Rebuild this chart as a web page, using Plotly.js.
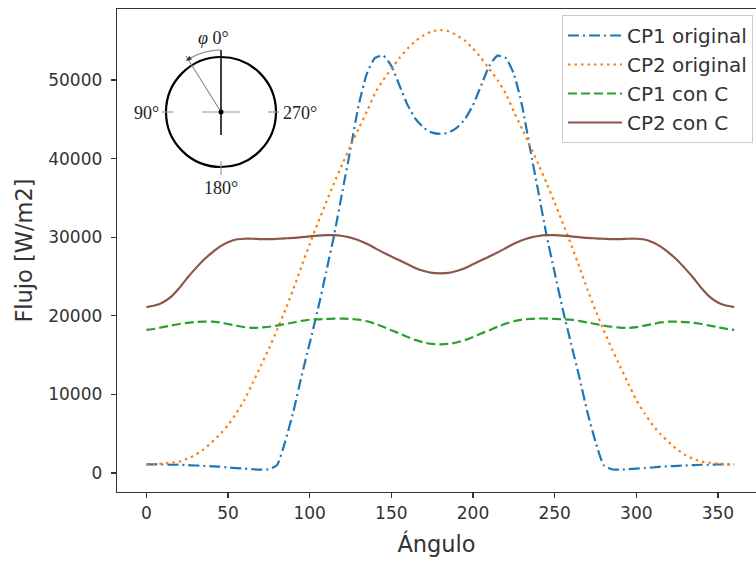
<!DOCTYPE html>
<html>
<head>
<meta charset="utf-8">
<script src="https://cdn.plot.ly/plotly-3.0.1.min.js"></script>
<style>html,body{margin:0;padding:0;background:#fff;}#chart{width:756px;height:561px;}</style>
</head>
<body>
<div id="chart"></div>
<script>
// ---- data ----
const angulo = [0,5,10,15,20,25,30,35,40,45,50,55,60,65,70,75,80,85,90,95,100,105,110,115,120,125,130,135,140,145,150,155,160,165,170,175,180,
  185,190,195,200,205,210,215,220,225,230,235,240,245,250,255,260,265,270,275,280,285,290,295,300,305,310,315,320,325,330,335,340,345,350,355,360];

const cp1Original = [1100,1100,1080,1050,1050,1000,950,900,850,800,700,620,550,480,420,480,1000,4000,7800,12300,16500,20800,25500,30300,35800,41200,46800,50800,52800,53100,51800,49300,46800,45000,43900,43300,43150,
  43300,43900,45000,46800,49300,51800,53100,52800,50800,46800,41200,35800,30300,25500,20800,16500,12300,7800,4000,1000,480,420,480,550,620,700,800,850,900,950,1000,1050,1050,1080,1100,1100];

const cp2Original = [1050,1100,1200,1300,1450,1800,2300,3000,3900,4900,6100,7600,9300,11400,13600,15800,18200,20700,23400,26300,29100,31800,34400,36900,39300,41600,43800,46000,48300,50000,51400,52800,54000,55000,55700,56200,56350,
  56200,55700,55000,54000,52800,51400,50000,48300,46000,43800,41600,39300,36900,34400,31800,29100,26300,23400,20700,18200,15800,13600,11400,9300,7600,6100,4900,3900,3000,2300,1800,1450,1300,1200,1100,1050];

const cp1ConC = [18200,18350,18550,18750,18950,19100,19200,19250,19250,19150,18950,18750,18550,18450,18500,18600,18750,18950,19150,19350,19500,19550,19600,19650,19650,19600,19500,19300,19000,18600,18150,17750,17300,16900,16600,16420,16370,
  16420,16600,16900,17300,17750,18150,18600,19000,19300,19500,19600,19650,19650,19600,19550,19500,19350,19150,18950,18750,18600,18500,18450,18550,18750,18950,19150,19250,19250,19200,19100,18950,18750,18550,18350,18200];

const cp2ConC = [21100,21300,21700,22400,23500,24800,26000,27100,28000,28800,29350,29700,29800,29800,29750,29750,29800,29850,29900,30000,30100,30200,30250,30250,30150,29950,29600,29150,28600,28050,27550,27050,26550,26050,25700,25450,25400,
  25450,25700,26050,26550,27050,27550,28050,28600,29150,29600,29950,30150,30250,30250,30200,30100,30000,29900,29850,29800,29750,29750,29800,29800,29700,29350,28800,28000,27100,26000,24800,23500,22400,21700,21300,21100];

const seriesNames = ['CP1 original','CP2 original','CP1 con C','CP2 con C'];
const xTicks = [0,50,100,150,200,250,300,350];
const yTicks = [0,10000,20000,30000,40000,50000];

// ---- styling ----
const colors = ['#1f77b4','#ff7f0e','#2ca02c','#8c564b'];
const dashes = ['11px,4px,2px,4px','2.5px,4px','9px,4px','solid'];
const ys = [cp1Original, cp2Original, cp1ConC, cp2ConC];

const traces = ys.map((y,i)=>({
  x: angulo, y: y, type:'scatter', mode:'lines', name: seriesNames[i],
  line:{color:colors[i], width:2.2, dash:dashes[i], shape:'spline', smoothing:0.5}
}));

// plot area in pixels
const L=117, T=9, R=756, B=492, W=R-L, H=B-T;
const px = x => (x-L)/W;
const py = y => (B-y)/H;

const cx=221, cy=112, r=55;
const shapes = [];
shapes.push({type:'circle', xref:'paper', yref:'paper', x0:px(cx-r), x1:px(cx+r), y0:py(cy+r), y1:py(cy-r), line:{color:'#000', width:2.2}, layer:'above'});
const seg = (x0,y0,x1,y1,color,w)=>shapes.push({type:'line', xref:'paper', yref:'paper', x0:px(x0), y0:py(y0), x1:px(x1), y1:py(y1), line:{color:color,width:w}, layer:'above'});
seg(cx,50,cx,135,'#111',1.6);
seg(202,cy,240,cy,'#999',1.2);
seg(162,cy,173,cy,'#999',1.2);
seg(268,cy,279,cy,'#999',1.2);
seg(cx,161,cx,175,'#999',1.2);
seg(cx,cy,186,56,'#888',1.1);
// arc with arrow
let arc = '';
const ra = 62;
for(let k=0;k<=12;k++){
  const a = (k/12)*31*Math.PI/180;
  const X = cx - ra*Math.sin(a), Y = cy - ra*Math.cos(a);
  arc += (k===0?'M':'L') + px(X) + ',' + py(Y) + ' ';
}
shapes.push({type:'path', xref:'paper', yref:'paper', path:arc, line:{color:'#888', width:1.2}, layer:'above'});
// arrow head
{
  const a = 34*Math.PI/180;
  const tx = cx - ra*Math.sin(a), ty = cy - ra*Math.cos(a);
  const dx = -Math.cos(a), dy = Math.sin(a); // tangent (pixel coords)
  const nx = -dy, ny = dx;
  const bx = tx - 5*dx, by = ty - 5*dy;
  const p = 'M'+px(tx)+','+py(ty)+' L'+px(bx+2*nx)+','+py(by+2*ny)+' L'+px(bx-2*nx)+','+py(by-2*ny)+' Z';
  shapes.push({type:'path', xref:'paper', yref:'paper', path:p, fillcolor:'#333', line:{color:'#333', width:0.5}, layer:'above'});
}
// centre dot
shapes.push({type:'circle', xref:'paper', yref:'paper', x0:px(cx-2.5), x1:px(cx+2.5), y0:py(cy+2.5), y1:py(cy-2.5), fillcolor:'#000', line:{color:'#000', width:0}, layer:'above'});

const serif = {family:'Liberation Serif, DejaVu Serif, serif', size:18, color:'#222'};
const ann = (x,y,text,xa)=>({xref:'paper', yref:'paper', x:px(x), y:py(y), text:text, showarrow:false, xanchor:xa||'center', yanchor:'middle', font:serif});
const annotations = [
  ann(213,38,'<i>φ</i> 0°'),
  ann(161,113,'90°','right'),
  ann(281,113,'270°','left'),
  ann(221,188,'180°')
];

const tickfont = {family:'DejaVu Sans, sans-serif', size:17, color:'#333'};
const layout = {
  width:756, height:561,
  margin:{l:L, r:756-R, t:T, b:561-B, pad:0},
  paper_bgcolor:'#fff', plot_bgcolor:'#fff',
  showlegend:true,
  legend:{x:px(562), y:py(15), xanchor:'left', yanchor:'top', bgcolor:'rgba(255,255,255,0.85)', bordercolor:'#cccccc', borderwidth:1,
    font:{family:'DejaVu Sans, sans-serif', size:20, color:'#333'}, itemwidth:54, tracegroupgap:0},
  xaxis:{range:[-18, (R-146)/1.634], tickvals:xTicks, ticktext:xTicks.map(String), ticks:'outside', ticklen:5, tickwidth:1.3, tickcolor:'#333',
    showline:true, linecolor:'#333', linewidth:1.3, mirror:true, showgrid:false, zeroline:false, tickfont:tickfont,
    title:{text:'Ángulo', font:{family:'DejaVu Sans, sans-serif', size:22.5, color:'#333'}, standoff:14}, automargin:false},
  yaxis:{range:[-2420, 59030], tickvals:yTicks, ticktext:yTicks.map(String), ticks:'outside', ticklen:5, tickwidth:1.3, tickcolor:'#333',
    showline:true, linecolor:'#333', linewidth:1.3, mirror:false, showgrid:false, zeroline:false, tickfont:tickfont, ticklabelstandoff:5,
    title:{text:'Flujo [W/m2]', font:{family:'DejaVu Sans, sans-serif', size:22.5, color:'#333'}, standoff:9}, automargin:false},
  shapes:shapes,
  annotations:annotations
};

Plotly.newPlot('chart', traces, layout, {displayModeBar:false, staticPlot:true});
</script>
</body>
</html>
